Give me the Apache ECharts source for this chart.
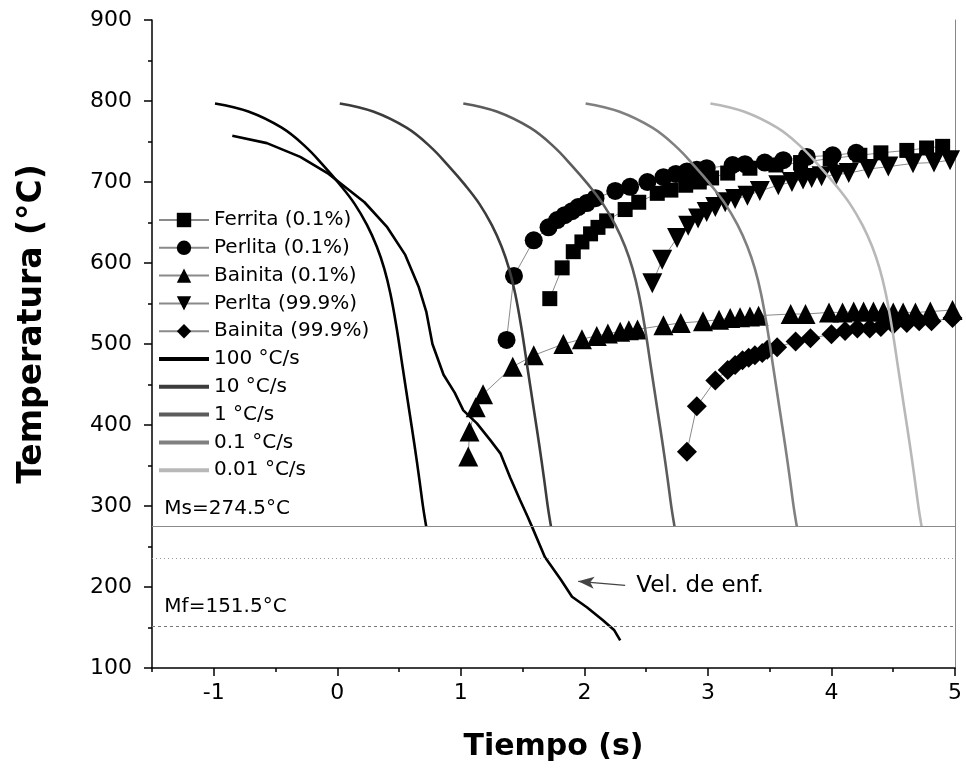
<!DOCTYPE html>
<html><head><meta charset="utf-8">
<script src="https://cdn.jsdelivr.net/npm/echarts@6/dist/echarts.min.js"></script>
<style>html,body{margin:0;padding:0;background:#fff}#c{width:966px;height:775px}</style>
</head><body><div id="c"></div>
<script>
// ---- data ----
const xMajorTicks = [-1, 0, 1, 2, 3, 4, 5];
const xMinorTicks = [-1.5, -0.5, 0.5, 1.5, 2.5, 3.5, 4.5];
const msTemp = 274.5, mfTemp = 151.5, midTemp = 236;
const ferrita01 = [[1.72,556],[1.82,594],[1.91,614],[1.98,626],[2.05,636],[2.11,644],[2.18,652],[2.33,666],[2.44,675],[2.59,686],[2.70,690],[2.82,696],[2.93,700],[3.03,705],[3.16,711],[3.34,717],[3.55,721],[3.75,724],[3.99,729],[4.23,733],[4.40,736],[4.61,739],[4.77,742],[4.90,744]];
const perlita01 = [[1.37,505],[1.43,584],[1.59,628],[1.71,644],[1.78,653],[1.84,659],[1.90,664],[1.95,669],[2.02,674],[2.09,680],[2.25,689],[2.37,694],[2.51,700],[2.64,706],[2.74,710],[2.83,713],[2.91,715],[2.99,717],[3.20,721],[3.30,722],[3.46,724],[3.61,727],[3.80,731],[4.01,733],[4.20,736]];
const bainita01 = [[1.06,361],[1.07,392],[1.12,422],[1.18,438],[1.42,472],[1.59,486],[1.83,500],[1.98,506],[2.10,510],[2.19,513],[2.29,515],[2.36,517],[2.43,518],[2.64,523],[2.78,526],[2.96,528],[3.09,530],[3.18,532],[3.26,533],[3.34,534],[3.41,535],[3.67,537],[3.79,537],[3.98,539],[4.09,539],[4.18,540],[4.26,540],[4.34,540],[4.42,540],[4.50,539],[4.58,539],[4.68,539],[4.80,540],[4.98,542]];
const perlta999 = [[2.55,575],[2.63,604],[2.75,631],[2.84,646],[2.92,655],[2.99,663],[3.06,669],[3.14,675],[3.22,679],[3.32,683],[3.42,689],[3.57,696],[3.68,700],[3.77,703],[3.84,705],[3.92,707],[4.04,709],[4.14,711],[4.30,716],[4.46,719],[4.66,723],[4.83,724],[4.96,727]];
const bainita999 = [[2.83,367],[2.91,423],[3.06,455],[3.16,468],[3.22,474],[3.28,480],[3.33,483],[3.38,486],[3.44,489],[3.48,493],[3.56,496],[3.71,503],[3.83,507],[4.00,512],[4.11,516],[4.21,519],[4.31,519],[4.40,521],[4.50,524],[4.61,526],[4.71,528],[4.81,528],[4.98,532]];
const curve100 = [[-0.99,797],[-0.72,787],[-0.45,767],[-0.26,744],[-0.11,720],[0.02,697],[0.14,673],[0.24,647],[0.32,620],[0.38,593],[0.43,562],[0.48,520],[0.53,470],[0.58,420],[0.625,375],[0.665,332],[0.695,298],[0.72,274.5]];
const curve10 = [[0.02,797],[0.29,787],[0.56,767],[0.75,744],[0.90,720],[1.03,697],[1.15,673],[1.25,647],[1.33,620],[1.39,593],[1.44,562],[1.49,520],[1.54,470],[1.59,420],[1.635,375],[1.675,332],[1.705,298],[1.73,274.5]];
const curve1 = [[1.02,797],[1.29,787],[1.56,767],[1.75,744],[1.90,720],[2.03,697],[2.15,673],[2.25,647],[2.33,620],[2.39,593],[2.44,562],[2.49,520],[2.54,470],[2.59,420],[2.635,375],[2.675,332],[2.705,298],[2.73,274.5]];
const curve01 = [[2.01,797],[2.28,787],[2.55,767],[2.74,744],[2.89,720],[3.02,697],[3.14,673],[3.24,647],[3.32,620],[3.38,593],[3.43,562],[3.48,520],[3.53,470],[3.58,420],[3.625,375],[3.665,332],[3.695,298],[3.72,274.5]];
const curve001 = [[3.02,797],[3.29,787],[3.56,767],[3.75,744],[3.90,720],[4.03,697],[4.15,673],[4.25,647],[4.33,620],[4.39,593],[4.44,562],[4.49,520],[4.54,470],[4.59,420],[4.635,375],[4.675,332],[4.705,298],[4.73,274.5]];
const velEnf = [[-0.85,757],[-0.57,748],[-0.30,731],[-0.08,711],[0.02,699],[0.22,675],[0.40,645],[0.55,610],[0.66,570],[0.72,540],[0.77,500],[0.86,462],[0.95,440],[1.02,418],[1.13,402],[1.24,381],[1.32,365],[1.40,335],[1.48,307],[1.54,287],[1.58,273],[1.68,237],[1.81,209],[1.90,188],[2.02,175],[2.15,159],[2.24,147],[2.29,134]];
const names = ['Ferrita (0.1%)','Perlita (0.1%)','Bainita (0.1%)','Perlta (99.9%)','Bainita (99.9%)','100 °C/s','10 °C/s','1 °C/s','0.1 °C/s','0.01 °C/s'];

// ---- chart ----
const FF = '"DejaVu Sans", "Liberation Sans", Arial, sans-serif';
const chart = echarts.init(document.getElementById('c'), null, {renderer:'canvas'});
function scat(name, data, symbol, size, rot) {
  return {name, type:'line', data, symbol, symbolSize:size, symbolRotate:rot||0,
    itemStyle:{color:'#000'}, lineStyle:{color:'#8a8a8a', width:1}, z:2, animation:false};
}
function cool(name, data, color) {
  return {name, type:'line', data, symbol:'none', smooth:0.4,
    lineStyle:{color, width:2.6}, itemStyle:{color}, z:3, animation:false};
}
const legendData = names.map((n, i) => i < 5 ? {name:n} : {name:n, lineStyle:{width:4}, itemStyle:{opacity:0}});
const option = {
  backgroundColor:'#fff',
  animation:false,
  grid:{left:152, right:11, top:20, bottom:107, show:false},
  legend:{orient:'vertical', left:152, top:205, itemWidth:50, itemHeight:18, itemGap:7.8,
    textStyle:{fontSize:20, fontFamily:FF, color:'#000'}, data:legendData, selectedMode:false},
  xAxis:[{type:'value', min:-1.5, max:5,
      axisLine:{show:true, onZero:false, lineStyle:{color:'#000', width:1.5}},
      axisTick:{show:true, customValues:xMajorTicks, length:8, inside:false, lineStyle:{color:'#000', width:1.5}},
      axisLabel:{customValues:xMajorTicks, fontSize:22, fontFamily:FF, color:'#000', margin:14},
      splitLine:{show:false},
      name:'Tiempo (s)', nameLocation:'middle', nameGap:64,
      nameTextStyle:{fontSize:30, fontWeight:'bold', fontFamily:FF, color:'#000'}},
    {type:'value', min:-1.5, max:5, position:'bottom',
      axisLine:{show:false, onZero:false}, axisLabel:{show:false}, splitLine:{show:false},
      axisTick:{show:true, customValues:xMinorTicks, length:4, lineStyle:{color:'#000', width:1.5}}}],
  yAxis:[{type:'value', min:100, max:900, interval:100,
      axisLine:{show:true, onZero:false, lineStyle:{color:'#000', width:1.5}},
      axisTick:{show:true, length:8, lineStyle:{color:'#000', width:1.5}},
      minorTick:{show:true, splitNumber:2, length:4, lineStyle:{color:'#000', width:1.5}},
      axisLabel:{fontSize:22, fontFamily:FF, color:'#000', margin:20},
      splitLine:{show:false},
      name:'Temperatura (°C)', nameLocation:'middle', nameGap:103,
      nameTextStyle:{fontSize:33, fontWeight:'bold', fontFamily:FF, color:'#000', padding:[0,0,0,40]}},
    {type:'value', min:100, max:900, position:'right',
      axisLine:{show:true, onZero:false, lineStyle:{color:'#888', width:1}}, axisTick:{show:false},
      axisLabel:{show:false}, splitLine:{show:false}}],
  series:[
    scat(names[0], ferrita01, 'rect', 15),
    scat(names[1], perlita01, 'circle', 18),
    scat(names[2], bainita01, 'triangle', 20),
    scat(names[3], perlta999, 'triangle', 20, 180),
    scat(names[4], bainita999, 'diamond', 20),
    cool(names[5], curve100, '#000000'),
    cool(names[6], curve10, '#3c3c3c'),
    cool(names[7], curve1, '#5c5c5c'),
    cool(names[8], curve01, '#808080'),
    cool(names[9], curve001, '#b8b8b8'),
    {name:'Vel. de enf.', type:'line', data:velEnf, symbol:'none', lineStyle:{color:'#000', width:2.6}, z:3,
      markLine:{silent:true, symbol:['none','none'], label:{show:false},
        lineStyle:{color:'#000', width:1, type:'solid'},
        data:[
          {yAxis:msTemp, lineStyle:{color:'#8a8a8a', width:1.2, type:'solid'}},
          {yAxis:midTemp, lineStyle:{color:'#999', width:1, type:[1,3]}},
          {yAxis:mfTemp, lineStyle:{color:'#777', width:1, type:[3,3]}},
          [{coord:[2.33,202], symbol:'none', lineStyle:{color:'#444', width:1.2, type:'solid'}},
           {coord:[1.95,207], symbol:'arrow', symbolSize:[9,16]}]
        ]}}
  ]
};
chart.setOption(option);
const pMs = chart.convertToPixel({gridIndex:0}, [-1.40, 296]);
const pMf = chart.convertToPixel({gridIndex:0}, [-1.40, 176]);
const pVel = chart.convertToPixel({gridIndex:0}, [2.42, 201]);
chart.setOption({graphic:[
  {type:'text', x:pMs[0], y:pMs[1], style:{text:'Ms=274.5°C', font:'20px '+FF, fill:'#000', verticalAlign:'middle'}},
  {type:'text', x:pMf[0], y:pMf[1], style:{text:'Mf=151.5°C', font:'20px '+FF, fill:'#000', verticalAlign:'middle'}},
  {type:'text', x:pVel[0], y:pVel[1], style:{text:'Vel. de enf.', font:'23px '+FF, fill:'#000', verticalAlign:'middle'}}
]});
</script></body></html>
